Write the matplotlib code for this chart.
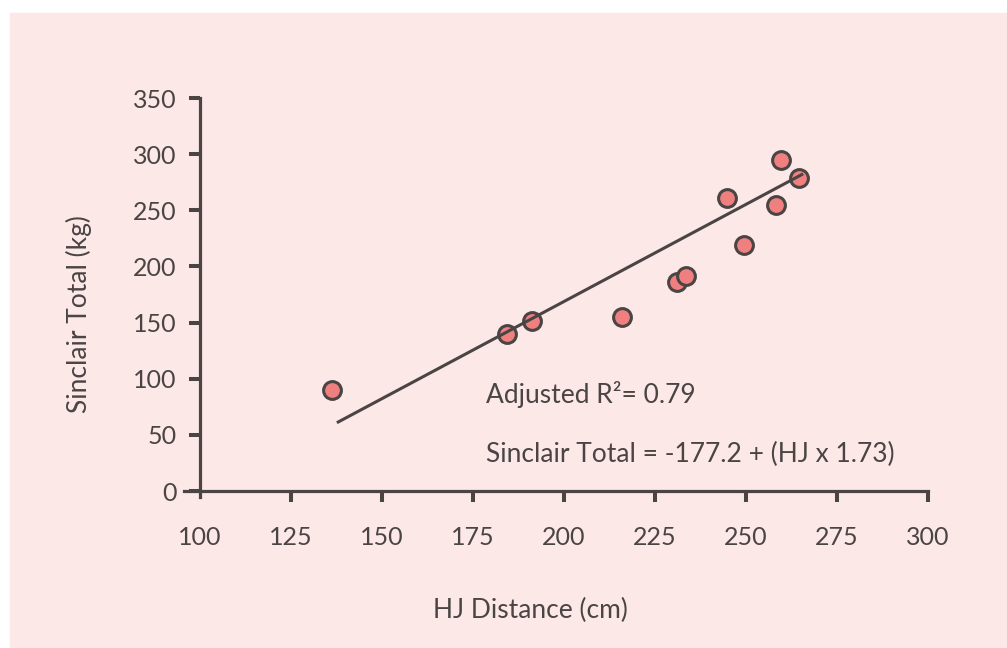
import matplotlib
matplotlib.use("Agg")
import matplotlib.pyplot as plt
from matplotlib.patches import Rectangle

# HJ distance (cm) vs Sinclair total (kg)
hj_distance = [136.2, 184.3, 191.3, 215.9, 231.0, 233.4, 244.7, 249.5, 258.2, 259.5, 264.6]
sinclair_total = [90, 140, 151, 155, 186, 191.5, 261, 219, 255, 295, 279]

# regression line: Sinclair Total = -177.2 + HJ x 1.73
intercept = -177.2
slope = 1.73
r2_adj = 0.79
line_x = [137.6, 265.7]

x_ticks = [100, 125, 150, 175, 200, 225, 250, 275, 300]
y_ticks = [0, 50, 100, 150, 200, 250, 300, 350]

bg = "#fce8e6"
ink = "#4a4445"
dot = "#f08080"

plt.rcParams["font.family"] = ["Lato", "DejaVu Sans"]

W, H = 1007, 648
fig = plt.figure(figsize=(W / 100, H / 100), dpi=100)
fig.patches.append(Rectangle((10 / W, 0), 1 - 10 / W, (H - 13) / H,
                             transform=fig.transFigure, color=bg, zorder=-10))

ax = fig.add_axes([184 / W, (H - 497) / H, 744 / W, 399 / H])
ax.set_zorder(1)
ax.patch.set_visible(False)
ax.set_xlim(95.6, 300)
ax.set_ylim(-5.3, 350)

for s in ["top", "right"]:
    ax.spines[s].set_visible(False)
ax.spines["left"].set_position(("data", 100))
ax.spines["bottom"].set_position(("data", 0))
ax.spines["left"].set_bounds(-5.3, 350)
ax.spines["bottom"].set_bounds(95.6, 300)
for s in ["left", "bottom"]:
    ax.spines[s].set_color(ink)
    ax.spines[s].set_linewidth(2.3)

ax.set_xticks(x_ticks)
ax.set_yticks(y_ticks)
ax.tick_params(axis="both", direction="out", length=7.9, width=2.9,
               color=ink, labelcolor=ink, labelsize=18)
ax.tick_params(axis="x", pad=17)
ax.tick_params(axis="y", pad=9)
ax.xaxis.get_major_ticks()[0].tick1line.set_visible(False)

# scatter of athletes, fit line drawn over it
ax.plot(hj_distance, sinclair_total, "o", ms=12.8, mfc=dot, mec=ink, mew=2.2,
        zorder=3, clip_on=False)
fit_y = [intercept + slope * x for x in line_x]
ax.plot(line_x, fit_y, color=ink, lw=2.2, zorder=4, solid_capstyle="butt")

ax.text(178.6, 78.4, f"Adjusted R\u00b2= {r2_adj:.2f}", color=ink,
        fontsize=19, va="baseline", ha="left")
ax.text(178.6, 26.1, f"Sinclair Total = {intercept} + (HJ x {slope})",
        color=ink, fontsize=19, va="baseline", ha="left")

fig.text(530 / W, 1 - 610 / H, "HJ Distance (cm)", color=ink, fontsize=19,
         ha="center", va="center")
fig.text(79 / W, 1 - 314 / H, "Sinclair Total (kg)", color=ink, fontsize=19,
         ha="center", va="center", rotation=90)

fig.savefig("out.png", dpi=100, facecolor="white")
